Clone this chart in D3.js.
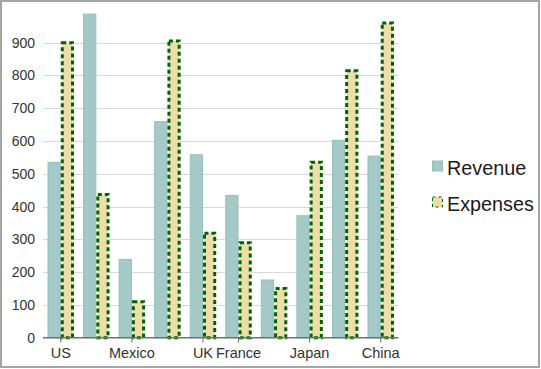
<!DOCTYPE html>
<html>
<head>
<meta charset="utf-8">
<script src="https://cdn.jsdelivr.net/npm/d3@7"></script>
<style>
  html, body { margin: 0; padding: 0; background: #fff; }
  svg { display: block; font-family: "Liberation Sans", Arial, sans-serif; }
</style>
</head>
<body>
<svg id="chart" width="541" height="369"></svg>
<script>
// ---- data ----
const categories = ["US", "Germany", "Mexico", "Canada", "UK", "France", "Italy", "Japan", "Korea", "China"];
const shownLabels = ["US", "Mexico", "UK", "France", "Japan", "China"];
const revenue  = [535, 987, 239, 659, 558, 434, 176, 372, 602, 554];
const expenses = [900, 437, 110, 905, 319, 290, 150, 535, 814, 960];
const seriesNames = ["Revenue", "Expenses"];
const yTicks = [0, 100, 200, 300, 400, 500, 600, 700, 800, 900];

const svg = d3.select("#chart");
const W = 541, H = 369;
const plot = { left: 43, right: 398.5, top: 9.9, bottom: 337.7 };

// border
svg.append("rect").attr("x", 1).attr("y", 1).attr("width", W - 3).attr("height", H - 3)
  .attr("fill", "#fff").attr("stroke", "#a6a6a6").attr("stroke-width", 2);

const x0 = d3.scaleBand().domain(d3.range(categories.length))
  .range([plot.left, plot.right]).paddingInner(0.255).paddingOuter(0.1275);
const x1 = d3.scaleBand().domain(seriesNames).range([0, x0.bandwidth()]);
const y = d3.scaleLinear().domain([0, 1000]).range([plot.bottom, plot.top]);

// gridlines
svg.append("g").selectAll("line").data(yTicks.filter(d => d > 0)).join("line")
  .attr("x1", plot.left).attr("x2", plot.right)
  .attr("y1", d => Math.round(y(d)) + 0.5).attr("y2", d => Math.round(y(d)) + 0.5)
  .attr("stroke", "#d9d9d9").attr("stroke-width", 1);

// y labels
const yAxis = d3.axisLeft(y).tickValues(yTicks).tickSize(0).tickPadding(0);
const ya = svg.append("g").attr("transform", `translate(35,0)`).call(yAxis);
ya.select(".domain").remove();
ya.selectAll("text").attr("font-size", "14px").attr("fill", "#333")
  .attr("font-family", "Liberation Sans, Arial, sans-serif");

const data = categories.map((c, i) => ({ i, Revenue: revenue[i], Expenses: expenses[i] }));

const groups = svg.append("g").selectAll("g").data(data).join("g")
  .attr("transform", d => `translate(${x0(d.i)},0)`);

// revenue bars
groups.append("rect")
  .attr("x", x1("Revenue") + 0.5).attr("width", x1.bandwidth() - 1)
  .attr("y", d => y(d.Revenue)).attr("height", d => y(0) - y(d.Revenue))
  .attr("fill", "#a5c9c7").attr("stroke", "#93bfbc").attr("stroke-width", 1);

// expenses bars
groups.append("rect")
  .attr("x", x1("Expenses") + 1.5).attr("width", x1.bandwidth() - 3)
  .attr("y", d => y(d.Expenses)).attr("height", d => y(0) - y(d.Expenses))
  .attr("fill", "#ecddab").attr("stroke", "#006400").attr("stroke-width", 3)
  .attr("stroke-dasharray", "4,3");

// x axis
const xa = svg.append("g").attr("transform", `translate(0,${plot.bottom})`);
xa.append("line").attr("x1", plot.left).attr("x2", plot.right)
  .attr("y1", 0).attr("y2", 0).attr("stroke", "#707070").attr("stroke-width", 1.6);
const shown = data.filter(d => shownLabels.includes(categories[d.i]));
xa.selectAll("line.tick").data(shown).join("line").attr("class", "tick")
  .attr("x1", d => x0(d.i) + x0.bandwidth() / 2).attr("x2", d => x0(d.i) + x0.bandwidth() / 2)
  .attr("y1", 0).attr("y2", 5).attr("stroke", "#707070").attr("stroke-width", 1);
xa.selectAll("text").data(shown).join("text")
  .attr("x", d => x0(d.i) + x0.bandwidth() / 2).attr("y", 20)
  .attr("text-anchor", "middle").attr("font-size", "14.5px").attr("fill", "#333")
  .text(d => categories[d.i]);

// legend
const legend = svg.append("g");
const items = [
  { name: seriesNames[0], fill: "#a5c9c7", stroke: "#93bfbc", dash: null, sw: 1 },
  { name: seriesNames[1], fill: "#ecddab", stroke: "#006400", dash: "3,3", sw: 1 }
];
items.forEach((it, k) => {
  const yy = 161 + k * 36;
  legend.append("rect").attr("x", 432.5).attr("y", yy).attr("width", 10).attr("height", 10)
    .attr("fill", it.fill).attr("stroke", it.stroke).attr("stroke-width", it.sw)
    .attr("stroke-dasharray", it.dash);
  legend.append("text").attr("x", 447).attr("y", yy + 14)
    .attr("font-size", "19.8px").attr("fill", "#1a1a1a").text(it.name);
});
</script>
</body>
</html>
